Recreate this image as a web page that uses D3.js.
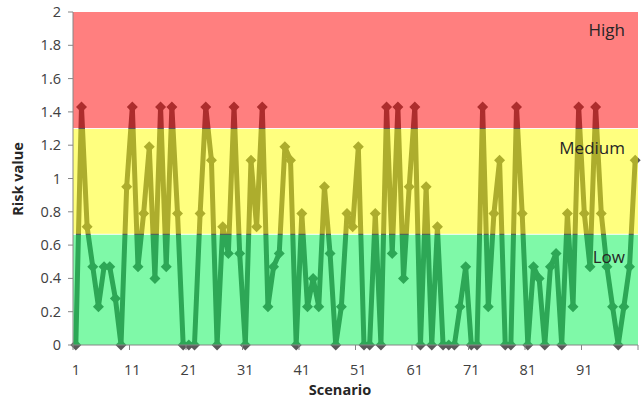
<!DOCTYPE html>
<html>
<head>
<meta charset="utf-8">
<script src="https://cdn.jsdelivr.net/npm/d3@7"></script>
<style>
  body { margin: 0; background: #fff; }
  text { font-family: "Open Sans", "Liberation Sans", sans-serif; }
</style>
</head>
<body>
<div id="chart"></div>
<script>
// Scenario numbers (categories)
const scenarios = d3.range(1, 101);

// Risk value per scenario
const riskValues = [
  0, 1.43, 0.71, 0.47, 0.23, 0.47, 0.47, 0.28, 0, 0.95,
  1.43, 0.47, 0.79, 1.19, 0.40, 1.43, 0.47, 1.43, 0.79, 0,
  0, 0, 0.79, 1.43, 1.11, 0, 0.71, 0.55, 1.43, 0.55,
  0, 1.11, 0.71, 1.43, 0.23, 0.47, 0.55, 1.19, 1.11, 0,
  0.79, 0.23, 0.40, 0.23, 0.95, 0.55, 0, 0.23, 0.79, 0.71,
  1.19, 0, 0, 0.79, 0, 1.43, 0.55, 1.43, 0.40, 0.95,
  1.43, 0, 0.95, 0, 0.71, 0, 0, 0, 0.23, 0.47,
  0, 0, 1.43, 0.23, 0.79, 1.11, 0, 0, 1.43, 0.79,
  0, 0.47, 0.40, 0, 0.47, 0.55, 0, 0.79, 0.23, 1.43,
  0.79, 0.47, 1.43, 0.79, 0.47, 0.23, 0, 0.23, 0.47, 1.11
];

// Risk zones
const zoneNames = ["Low", "Medium", "High"];
const zoneLimits = [0, 0.665, 1.30, 2];
const zoneColors = ["#00f452", "#ffff00", "#ff0000"];

// Axis labels
const xTickLabels = ["1", "11", "21", "31", "41", "51", "61", "71", "81", "91"];
const yTicks = [0, 0.2, 0.4, 0.6, 0.8, 1, 1.2, 1.4, 1.6, 1.8, 2];
const yTickLabels = ["0", "0.2", "0.4", "0.6", "0.8", "1", "1.2", "1.4", "1.6", "1.8", "2"];

const width = 642, height = 404;
const margin = { top: 12, right: 4, bottom: 59, left: 73 };

const svg = d3.select("#chart").append("svg")
    .attr("width", width)
    .attr("height", height);

const x = d3.scaleBand()
    .domain(scenarios)
    .range([margin.left, width - margin.right]);

const y = d3.scaleLinear()
    .domain([0, 2])
    .range([height - margin.bottom, margin.top]);

const cx = d => x(d) + x.bandwidth() / 2;

// Line and markers go under the translucent zones
const line = d3.line()
    .x((d, i) => cx(scenarios[i]))
    .y(d => y(d));

svg.append("path")
    .datum(riskValues)
    .attr("fill", "none")
    .attr("stroke", "#5a5a5a")
    .attr("stroke-width", 5)
    .attr("stroke-linejoin", "round")
    .attr("d", line);

svg.append("g")
    .selectAll("path")
    .data(riskValues)
    .enter()
    .append("path")
    .attr("d", "M0,-5.5L5.5,0L0,5.5L-5.5,0Z")
    .attr("fill", "#5a5a5a")
    .attr("transform", (d, i) => `translate(${cx(scenarios[i])},${y(d)})`);

// Zones, with a 1px white gap between them
const [x0, x1] = x.range();
svg.append("g")
    .selectAll("rect")
    .data(zoneNames)
    .enter()
    .append("rect")
    .attr("x", x0)
    .attr("width", x1 - x0)
    .attr("y", (d, i) => y(zoneLimits[i + 1]) + (i < 2 ? 0.5 : 0))
    .attr("height", (d, i) => y(zoneLimits[i]) - y(zoneLimits[i + 1]) - (i < 2 ? 0.5 : 0) - (i > 0 ? 0.5 : 0))
    .attr("fill", (d, i) => zoneColors[i])
    .attr("fill-opacity", 0.5);

// Zone labels
const zoneLabelY = [263, 154, 36];
svg.append("g")
    .selectAll("text")
    .data(zoneNames)
    .enter()
    .append("text")
    .attr("x", 625)
    .attr("y", (d, i) => zoneLabelY[i])
    .attr("text-anchor", "end")
    .attr("font-size", 17)
    .attr("fill", "#262626")
    .text(d => d);

// Axes
const axisColor = "#868686";
const xAxisY = y(0);

svg.append("line")
    .attr("x1", x0).attr("x2", x1)
    .attr("y1", xAxisY).attr("y2", xAxisY)
    .attr("stroke", axisColor);

svg.append("line")
    .attr("x1", x0).attr("x2", x0)
    .attr("y1", y(2)).attr("y2", xAxisY)
    .attr("stroke", axisColor);

// y ticks and labels
svg.append("g")
    .selectAll("line")
    .data(yTicks)
    .enter()
    .append("line")
    .attr("x1", x0 - 5).attr("x2", x0)
    .attr("y1", d => y(d)).attr("y2", d => y(d))
    .attr("stroke", axisColor);

svg.append("g")
    .selectAll("text")
    .data(yTicks)
    .enter()
    .append("text")
    .attr("x", 61)
    .attr("y", d => y(d))
    .attr("dy", "0.35em")
    .attr("text-anchor", "end")
    .attr("font-size", 14.5)
    .attr("fill", "#404040")
    .text((d, i) => yTickLabels[i]);

// x ticks every 10 scenarios, between categories
const xTickEdges = scenarios.filter(s => (s - 1) % 10 === 0).map(s => x(s)).concat([x1]);
svg.append("g")
    .selectAll("line")
    .data(xTickEdges)
    .enter()
    .append("line")
    .attr("x1", d => d).attr("x2", d => d)
    .attr("y1", xAxisY).attr("y2", xAxisY + 5)
    .attr("stroke", axisColor);

svg.append("g")
    .selectAll("text")
    .data(xTickLabels)
    .enter()
    .append("text")
    .attr("x", d => cx(+d))
    .attr("y", 375)
    .attr("text-anchor", "middle")
    .attr("font-size", 14.5)
    .attr("fill", "#404040")
    .text(d => d);

// Axis titles
svg.append("text")
    .attr("x", 340)
    .attr("y", 395)
    .attr("text-anchor", "middle")
    .attr("font-size", 14.5)
    .attr("font-weight", "bold")
    .attr("fill", "#262626")
    .text("Scenario");

svg.append("text")
    .attr("transform", "translate(23,179) rotate(-90)")
    .attr("text-anchor", "middle")
    .attr("font-size", 14.5)
    .attr("font-weight", "bold")
    .attr("fill", "#262626")
    .text("Risk value");
</script>
</body>
</html>
